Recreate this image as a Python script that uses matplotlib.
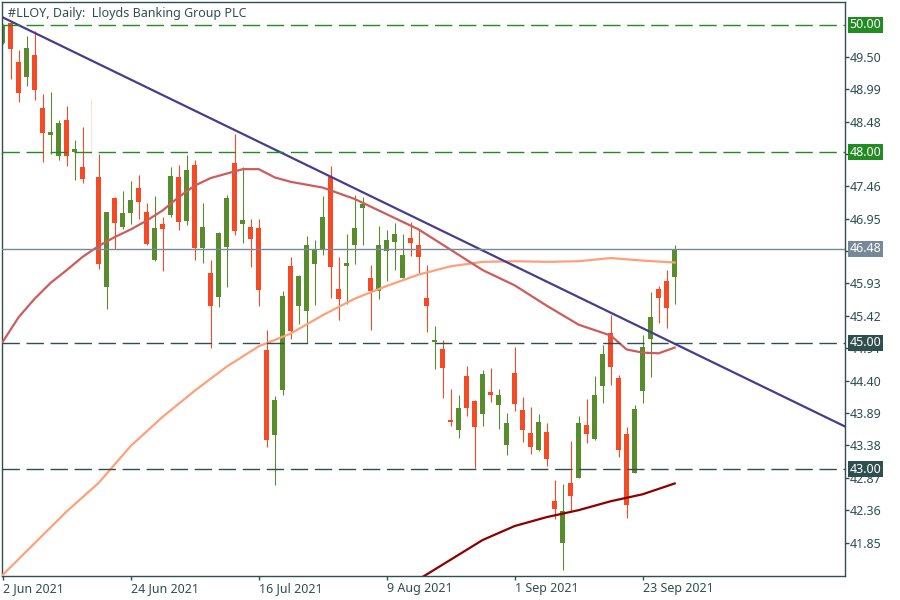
import matplotlib
matplotlib.use("Agg")
import matplotlib.pyplot as plt
import matplotlib.transforms as mtransforms
import numpy as np
import pandas as pd

# ---------------- data ----------------
title = "#LLOY, Daily:  Lloyds Banking Group PLC"

opens = [49.72, 50.03, 49.42, 49.18, 49.53, 48.70, 48.26, 47.94, 48.51, 48.00,
         47.77, 48.00, 47.61, 45.87, 47.28, 46.82, 47.04, 47.44, 47.06, 46.30,
         46.87, 47.01, 47.61, 46.92, 47.80, 46.49, 46.10, 45.72, 46.51, 47.83,
         46.86, 46.82, 46.81, 44.88, 43.54, 44.25, 46.21, 45.58, 45.50, 46.24,
         46.47, 47.61, 45.84, 46.21, 46.54, 47.12, 46.02, 45.81, 46.44, 46.58,
         46.02, 46.65, 46.54, 45.70, 45.01, 44.90, 43.78, 43.62, 44.48, 44.08,
         43.87, 44.22, 44.02, 43.39, 44.52, 43.94, 43.57, 43.31, 43.59, 42.50,
         41.84, 42.79, 42.87, 43.70, 43.48, 44.31, 45.15, 44.44, 43.56, 42.94,
         44.24, 45.06, 45.84, 45.97, 46.03]
highs = [50.02, 50.05, 49.61, 49.83, 49.91, 48.91, 48.95, 48.50, 48.72, 48.19,
         48.40, 48.83, 47.97, 47.06, 47.29, 47.39, 47.54, 47.64, 47.20, 47.30,
         46.98, 47.77, 47.80, 47.95, 47.87, 47.20, 46.30, 46.74, 47.32, 48.28,
         47.76, 46.94, 46.94, 45.19, 44.15, 45.81, 46.34, 46.06, 46.67, 46.61,
         47.30, 47.78, 46.34, 46.71, 47.32, 47.29, 46.22, 46.83, 46.77, 46.88,
         46.71, 46.90, 46.78, 46.22, 45.26, 45.04, 44.27, 44.17, 44.63, 44.09,
         44.57, 44.60, 44.27, 43.89, 44.93, 44.14, 43.98, 43.87, 43.73, 42.83,
         42.77, 43.45, 43.84, 44.11, 44.47, 44.96, 45.43, 44.49, 43.67, 44.02,
         45.12, 45.80, 45.89, 46.14, 46.54]
lows = [49.70, 49.15, 48.79, 49.04, 48.82, 47.84, 47.97, 47.87, 47.78, 47.56,
        47.51, 47.94, 46.15, 45.53, 46.47, 46.79, 46.86, 46.94, 46.54, 46.28,
        46.13, 46.97, 46.77, 46.85, 46.30, 46.25, 44.92, 45.56, 45.87, 46.69,
        46.56, 46.19, 45.58, 43.36, 42.76, 44.17, 45.06, 45.29, 44.99, 45.59,
        46.38, 45.70, 45.35, 45.61, 46.24, 46.54, 45.20, 45.69, 45.97, 46.14,
        46.01, 46.36, 46.09, 45.17, 44.59, 44.13, 43.69, 43.50, 43.84, 43.02,
        43.68, 44.07, 43.64, 43.23, 43.92, 43.43, 43.24, 43.29, 43.06, 42.22,
        41.42, 42.35, 42.86, 43.42, 43.47, 44.05, 44.33, 43.20, 42.24, 42.94,
        44.05, 44.46, 45.31, 45.23, 45.61]
closes = [50.00, 49.62, 48.93, 49.64, 48.98, 48.30, 48.31, 48.46, 47.94, 48.05,
          47.57, 48.00, 46.24, 47.06, 46.88, 47.04, 47.24, 47.22, 46.55, 46.81,
          46.79, 47.62, 46.90, 47.72, 46.49, 46.82, 45.58, 46.72, 47.28, 46.76,
          46.93, 46.63, 45.83, 43.46, 44.09, 45.73, 45.18, 46.04, 46.54, 46.47,
          46.97, 46.19, 45.69, 46.25, 46.81, 47.18, 45.81, 46.54, 46.61, 46.71,
          46.38, 46.57, 46.35, 45.57, 45.04, 44.60, 43.75, 43.97, 43.97, 43.67,
          44.50, 44.17, 44.17, 43.73, 44.03, 43.62, 43.35, 43.75, 43.17, 42.38,
          42.35, 42.58, 43.73, 43.56, 44.17, 44.82, 44.61, 43.31, 42.44, 43.95,
          44.93, 45.40, 45.70, 45.54, 46.48]
faint_bars = [11]

# moving-average style indicator lines (bar index -> value)
ma_red_bars = [0, 2, 4, 6, 8, 10, 12, 14, 16, 18, 20, 22, 24, 26, 28, 30, 32, 34,
               36, 40, 44, 48, 52, 56, 60, 64, 68, 72, 76, 78, 80, 82, 84]
ma_red_vals = [45.01, 45.40, 45.69, 45.94, 46.14, 46.35, 46.52, 46.66, 46.78, 46.92,
               47.08, 47.29, 47.47, 47.59, 47.66, 47.73, 47.73, 47.60, 47.53, 47.44,
               47.26, 47.02, 46.78, 46.46, 46.14, 45.90, 45.58, 45.28, 45.11, 44.89,
               44.84, 44.83, 44.92]
ma_salmon_bars = [0, 4, 8, 12, 16, 20, 24, 28, 32, 36, 40, 44, 48, 52, 56, 60, 64,
                  68, 72, 76, 80, 84]
ma_salmon_vals = [41.34, 41.84, 42.34, 42.79, 43.37, 43.83, 44.24, 44.62, 44.94, 45.14,
                  45.43, 45.69, 45.89, 46.07, 46.20, 46.27, 46.28, 46.27, 46.28, 46.33,
                  46.29, 46.26]
ma_dark_bars = [52, 56, 60, 64, 68, 72, 76, 80, 84]
ma_dark_vals = [41.27, 41.58, 41.89, 42.11, 42.25, 42.36, 42.50, 42.61, 42.78]

# trend line anchor points (bar index, price)
trend_p1 = (0, 50.12)
trend_p2 = (84, 44.98)

green_levels = [50.00, 48.00]
dark_levels = [45.00, 43.00]
bid_level = 46.48

ytick_vals = [49.50, 48.99, 48.48, 47.97, 47.46, 46.95, 46.44, 45.93, 45.42,
              44.91, 44.40, 43.89, 43.38, 42.87, 42.36, 41.85]
ytick_labels = ["49.50", "48.99", "48.48", "", "47.46", "46.95", "", "45.93", "45.42",
                "44.91", "44.40", "43.89", "43.38", "42.87", "42.36", "41.85"]
xtick_dates = ["2021-06-02", "2021-06-24", "2021-07-16", "2021-08-09", "2021-09-01", "2021-09-23"]
xtick_labels = ["2 Jun 2021", "24 Jun 2021", "16 Jul 2021", "9 Aug 2021", "1 Sep 2021", "23 Sep 2021"]

# trading days (UK bank holiday 30 Aug excluded)
dates = pd.bdate_range("2021-06-02", "2021-09-29")
dates = dates[dates != pd.Timestamp("2021-08-30")]

# ---------------- style ----------------
AXC = "#2F4F4F"
UP = "#588c2c"
DN = "#f44b26"
plt.rcParams["font.family"] = ["Noto Sans", "DejaVu Sans"]
FS = 9

fig = plt.figure(figsize=(9, 6), dpi=100)
fig.patch.set_facecolor("white")
ax = fig.add_axes([2 / 900, 24 / 600, 843 / 900, 574 / 600])
ax.set_facecolor("white")

x = np.arange(len(opens))
o = np.array(opens); h = np.array(highs); l = np.array(lows); c = np.array(closes)
cols = [UP if c[i] >= o[i] else DN for i in range(len(o))]
for i in faint_bars:
    cols[i] = "#fbe3da"

ax.vlines(x, l, h, colors=cols, linewidth=0.8, zorder=2)
body_bottom = np.minimum(o, c)
body_h = np.maximum(np.abs(c - o), 0.025)
mask = np.array([i not in faint_bars for i in range(len(o))])
ax.bar(x[mask], body_h[mask], bottom=body_bottom[mask], width=0.62,
       color=np.array(cols)[mask], linewidth=0, zorder=2)

# indicator lines
ax.plot(ma_salmon_bars, ma_salmon_vals, color="#FFA07A", lw=1.6, zorder=3)
ax.plot(ma_red_bars, ma_red_vals, color="#CD5C5C", lw=1.6, zorder=3)
ax.plot(ma_dark_bars, ma_dark_vals, color="#8B0000", lw=1.6, zorder=3)
ax.axline(trend_p1, trend_p2, color="#483D8B", lw=1.6, zorder=3.5)

# horizontal levels
for lv in green_levels:
    ax.axhline(lv, color="#228B22", lw=1, dashes=(12.5, 4.8), zorder=4)
for lv in dark_levels:
    ax.axhline(lv, color=AXC, lw=1, dashes=(12.5, 4.8), zorder=4)
ax.axhline(bid_level, color="#778899", lw=1, zorder=4)

# limits
ax.set_xlim(-0.0875, 105.29)
ax.set_ylim(50 - 551 / 63.5, 50 + 23 / 63.5)

for sp in ax.spines.values():
    sp.set_color(AXC)
    sp.set_linewidth(1)

ax.yaxis.tick_right()
ax.set_yticks(ytick_vals)
ax.set_yticklabels(ytick_labels)
xt = [int(np.where(dates == pd.Timestamp(d))[0][0]) for d in xtick_dates]
ax.set_xticks(xt)
ax.set_xticklabels(xtick_labels, ha="left")
ax.tick_params(axis="both", colors=AXC, labelcolor=AXC, labelsize=FS, length=3,
               width=1, direction="out")
ax.tick_params(axis="y", pad=0.5)
ax.tick_params(axis="x", pad=1)

# price label boxes
trans = mtransforms.blended_transform_factory(ax.transAxes, ax.transData)
boxes = [(50.00, "#228B22"), (48.00, "#228B22"), (45.00, AXC), (43.00, AXC),
         (bid_level, "#778899")]
for lv, fc in boxes:
    ax.text(1 + 4.5 / 843, lv, f"{lv:.2f}", transform=trans, ha="left", va="center",
            fontsize=FS, color="white", zorder=6,
            bbox=dict(boxstyle="square,pad=0.12", fc=fc, ec="none"))

fig.text(8 / 900, 1 - 16.5 / 600, title, fontsize=FS, color=AXC, va="baseline", ha="left")

fig.savefig("out.png", dpi=100, facecolor="white")
